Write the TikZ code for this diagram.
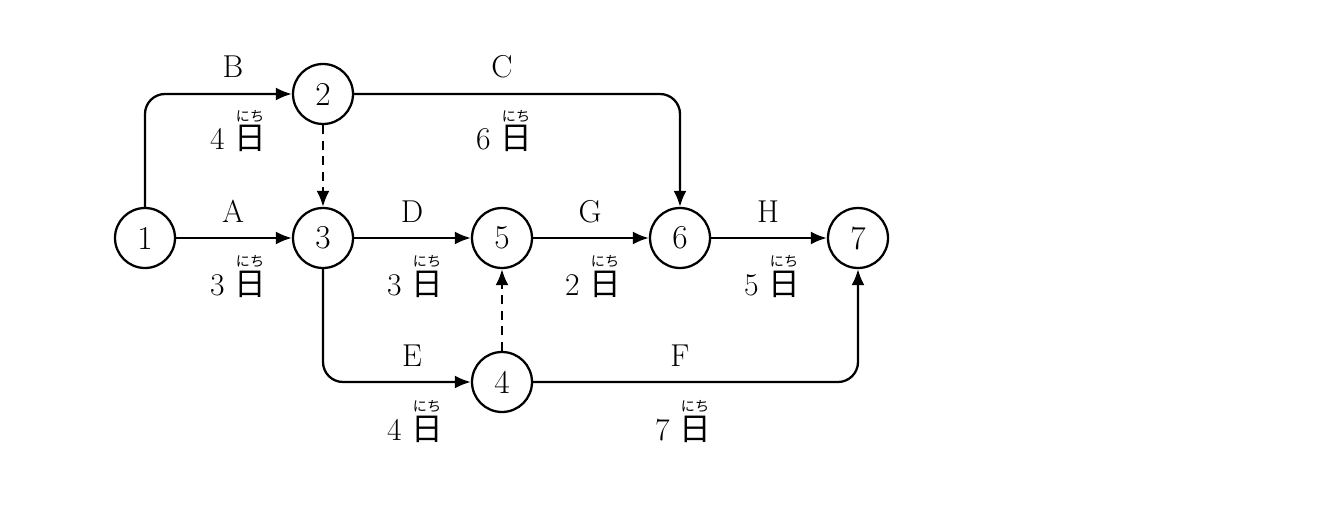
\documentclass[tikz,border=0pt]{standalone}
\usepackage{fontspec}
\newfontfamily\jpfont{Noto Sans CJK JP}
\usetikzlibrary{arrows.meta}
\tikzset{
    event-node/.style = {draw, circle, line width=1.3pt, minimum size=1.2cm, inner sep=0pt, font=\fontsize{19}{22}\selectfont},
    task-arrow/.style = {line width=1.3pt, -{Latex[length=0.32cm,width=0.26cm]}, rounded corners=0.4cm},
    dummy-arrow/.style = {task-arrow, dash pattern=on 0.18cm off 0.13cm},
    task-name/.style = {anchor=base, font=\fontsize{18}{20}\selectfont},
    task-days/.style = {anchor=base, inner sep=0pt, font=\fontsize{18}{20}\selectfont},
}
\newcommand{\nichi}{\begin{tabular}[b]{@{}c@{}}{\fontsize{8}{8}\selectfont\jpfont にち}\\[-4pt]{\jpfont 日}\end{tabular}}

\begin{document}
\begin{tikzpicture}[x=0.02cm, y=-0.02cm]
\useasboundingbox (0,0) rectangle (1336,510);

% events
\node [event-node] (n1) at (145,238) {1};
\node [event-node] (n2) at (323,94) {2};
\node [event-node] (n3) at (323,238) {3};
\node [event-node] (n4) at (502,382) {4};
\node [event-node] (n5) at (502,238) {5};
\node [event-node] (n6) at (680,238) {6};
\node [event-node] (n7) at (858,238) {7};

% activities
\draw [task-arrow] (n1) -- (n3);
\draw [task-arrow] (n1.north) |- (n2.west);
\draw [task-arrow] (n2.east) -| (n6.north);
\draw [dummy-arrow] (n2) -- (n3);
\draw [task-arrow] (n3) -- (n5);
\draw [task-arrow] (n3.south) |- (n4.west);
\draw [dummy-arrow] (n4) -- (n5);
\draw [task-arrow] (n4.east) -| (n7.south);
\draw [task-arrow] (n5) -- (n6);
\draw [task-arrow] (n6) -- (n7);

% names and durations
\node [task-name] (la) at (233,222) {A};
\node [task-days] (da) at (238,295) {3 \nichi};
\node [task-name] (lb) at (233,78) {B};
\node [task-days] (db) at (238,150) {4 \nichi};
\node [task-name] (lc) at (502,78) {C};
\node [task-days] (dc) at (504,150) {6 \nichi};
\node [task-name] (ld) at (412,222) {D};
\node [task-days] (dd) at (415,295) {3 \nichi};
\node [task-name] (le) at (412,366) {E};
\node [task-days] (de) at (415,440) {4 \nichi};
\node [task-name] (lf) at (680,366) {F};
\node [task-days] (df) at (683,440) {7 \nichi};
\node [task-name] (lg) at (590,222) {G};
\node [task-days] (dg) at (593,295) {2 \nichi};
\node [task-name] (lh) at (768,222) {H};
\node [task-days] (dh) at (772,295) {5 \nichi};
\end{tikzpicture}
\end{document}
